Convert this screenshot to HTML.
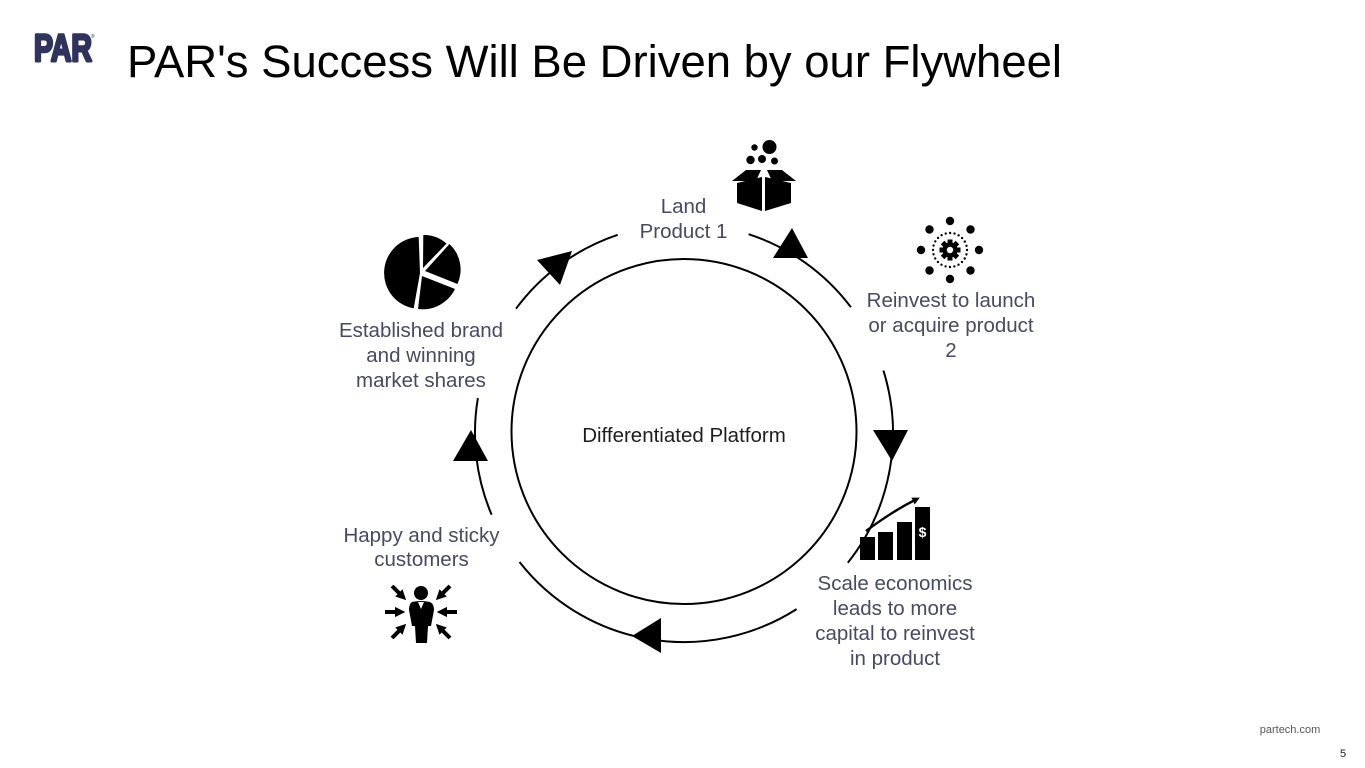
<!DOCTYPE html>
<html>
<head>
<meta charset="utf-8">
<style>
  html,body{margin:0;padding:0;background:#fff;}
  body{width:1365px;height:768px;overflow:hidden;}
  svg{display:block;}
  .lbl{font-family:"Liberation Sans",Arial,sans-serif;font-size:20.5px;fill:#474a62;text-anchor:middle;}
</style>
</head>
<body>
<svg width="1365" height="768" viewBox="0 0 1365 768" xmlns="http://www.w3.org/2000/svg">
  <defs>
    <marker id="ah" viewBox="0 0 10 10" refX="3" refY="5" markerWidth="2.6" markerHeight="2.6" orient="auto">
      <path d="M0,0 L10,5 L0,10 z" fill="#000"/>
    </marker>
    <marker id="ah2" viewBox="0 0 10 10" refX="3" refY="5" markerWidth="3.2" markerHeight="3.2" orient="auto">
      <path d="M0,0 L10,5 L0,10 z" fill="#000"/>
    </marker>
  </defs>

  <!-- Logo -->
  <text x="34" y="61" font-family="Liberation Sans, Arial, sans-serif" font-weight="bold" font-size="38" fill="#2f335e" stroke="#2f335e" stroke-width="3" stroke-linejoin="round" textLength="58" lengthAdjust="spacingAndGlyphs">PAR</text>
  <text x="91" y="38" font-family="Liberation Sans, Arial, sans-serif" font-size="5" fill="#2f335e">®</text>

  <!-- Title -->
  <text x="127" y="77" font-family="Liberation Sans, Arial, sans-serif" font-size="45" fill="#000" textLength="935" lengthAdjust="spacingAndGlyphs">PAR's Success Will Be Driven by our Flywheel</text>

  <!-- Inner circle -->
  <circle cx="684" cy="431.5" r="172.5" fill="none" stroke="#000" stroke-width="2"/>
  <text x="684" y="442" font-family="Liberation Sans, Arial, sans-serif" font-size="20.5" fill="#1e1e1e" text-anchor="middle">Differentiated Platform</text>

  <!-- Outer arcs -->
  <g fill="none" stroke="#000" stroke-width="2">
    <path d="M516,308.7 A209,209 0 0 1 617.7,234.8"/>
    <path d="M748.6,234.2 A209,209 0 0 1 850.9,307.2"/>
    <path d="M883.4,370.5 A209,209 0 0 1 847.8,562.8"/>
    <path d="M796.6,609.1 A209,209 0 0 1 519.5,562"/>
    <path d="M491.6,514.7 A209,209 0 0 1 477.9,398.1"/>
  </g>

  <!-- Arrowheads -->
  <g fill="#000">
    <polygon points="537,260 572,251 560,285"/>
    <polygon points="792,228 773,258 808,258"/>
    <polygon points="873,430 908,430 892,461"/>
    <polygon points="632,636 661,618 661,653"/>
    <polygon points="471,430 453,461 488,461"/>
  </g>

  <!-- Labels -->
  <text class="lbl" x="683.5" y="213">Land</text>
  <text class="lbl" x="683.5" y="238">Product 1</text>

  <text class="lbl" x="951" y="307">Reinvest to launch</text>
  <text class="lbl" x="951" y="332">or acquire product</text>
  <text class="lbl" x="951" y="357">2</text>

  <text class="lbl" x="421" y="337">Established brand</text>
  <text class="lbl" x="421" y="362">and winning</text>
  <text class="lbl" x="421" y="387">market shares</text>

  <text class="lbl" x="421.5" y="542">Happy and sticky</text>
  <text class="lbl" x="421.5" y="566">customers</text>

  <text class="lbl" x="895" y="590">Scale economics</text>
  <text class="lbl" x="895" y="615">leads to more</text>
  <text class="lbl" x="895" y="640">capital to reinvest</text>
  <text class="lbl" x="895" y="665">in product</text>

  <!-- Box icon -->
  <g fill="#000">
    <circle cx="769.5" cy="147" r="7"/>
    <circle cx="754.5" cy="147.5" r="3.2"/>
    <circle cx="750.5" cy="160" r="4.2"/>
    <circle cx="762" cy="159" r="4"/>
    <circle cx="774.5" cy="161" r="3.5"/>
    <polygon points="732,181 746,170 761,170 756,181"/>
    <polygon points="796,181 782,170 767,170 772,181"/>
    <polygon points="737,183 762,177 762,211 737,203"/>
    <polygon points="765,177 791,183 791,203 765,211"/>
  </g>

  <!-- Gear / dots icon -->
  <g transform="translate(950,250)">
    <g fill="#000">
      <circle cx="0" cy="-29" r="4.2"/>
      <circle cx="0" cy="29" r="4.2"/>
      <circle cx="-29" cy="0" r="4.2"/>
      <circle cx="29" cy="0" r="4.2"/>
      <circle cx="20.5" cy="-20.5" r="4.2"/>
      <circle cx="-20.5" cy="-20.5" r="4.2"/>
      <circle cx="20.5" cy="20.5" r="4.2"/>
      <circle cx="-20.5" cy="20.5" r="4.2"/>
    </g>
    <circle cx="0" cy="0" r="17" fill="none" stroke="#000" stroke-width="2.4" stroke-linecap="round" stroke-dasharray="0 4.45"/>
    <g fill="#000">
      <circle cx="0" cy="0" r="7.5"/>
      <rect x="-2.5" y="-10.5" width="5" height="21"/>
      <rect x="-2.5" y="-10.5" width="5" height="21" transform="rotate(45)"/>
      <rect x="-2.5" y="-10.5" width="5" height="21" transform="rotate(90)"/>
      <rect x="-2.5" y="-10.5" width="5" height="21" transform="rotate(135)"/>
    </g>
    <circle cx="0" cy="0" r="3.2" fill="#fff"/>
  </g>

  <!-- Pie chart icon -->
  <g fill="#000">
    <path d="M420,273 L413.7,308.4 A36,36 0 0 1 418.7,237.0 Z"/>
    <path d="M423,268 L423.3,235 A34,34 0 0 1 446.5,243.6 Z"/>
    <path d="M425,271 L449.5,244 A35,35 0 0 1 457.5,284 Z"/>
    <path d="M422,276 L455,289 A36,36 0 0 1 418,309 Z"/>
  </g>

  <!-- Chart icon -->
  <g fill="#000">
    <rect x="860" y="537" width="15" height="23"/>
    <rect x="878" y="532" width="15" height="28"/>
    <rect x="897" y="522" width="15" height="38"/>
    <rect x="915" y="507" width="15" height="53"/>
  </g>
  <path d="M866,531 Q893,511 915,500" fill="none" stroke="#000" stroke-width="2.4" marker-end="url(#ah2)"/>
  <text x="922.5" y="537" font-family="Liberation Sans, Arial, sans-serif" font-weight="bold" font-size="14" fill="#fff" text-anchor="middle">$</text>

  <!-- Person icon -->
  <g fill="#000">
    <circle cx="421" cy="593" r="7"/>
    <path d="M412,602 Q421,600 430,602 Q434,604 434,610 L431,626 L428,626 L427,643 L416,643 L415,626 L412,626 L409,610 Q409,604 412,602 Z"/>
  </g>
  <polygon points="418,602 424,602 421,609" fill="#fff"/>
  <g stroke="#000" stroke-width="4" fill="none">
    <line x1="392" y1="586" x2="401" y2="595" marker-end="url(#ah)"/>
    <line x1="385" y1="612" x2="398" y2="612" marker-end="url(#ah)"/>
    <line x1="392" y1="638" x2="401" y2="629" marker-end="url(#ah)"/>
    <line x1="450" y1="586" x2="441" y2="595" marker-end="url(#ah)"/>
    <line x1="457" y1="612" x2="444" y2="612" marker-end="url(#ah)"/>
    <line x1="450" y1="638" x2="441" y2="629" marker-end="url(#ah)"/>
  </g>

  <!-- Footer -->
  <text x="1290" y="733" font-family="Liberation Sans, Arial, sans-serif" font-size="11" fill="#555" text-anchor="middle">partech.com</text>
  <text x="1343" y="757" font-family="Liberation Sans, Arial, sans-serif" font-size="11" fill="#222" text-anchor="middle">5</text>
</svg>
</body>
</html>
